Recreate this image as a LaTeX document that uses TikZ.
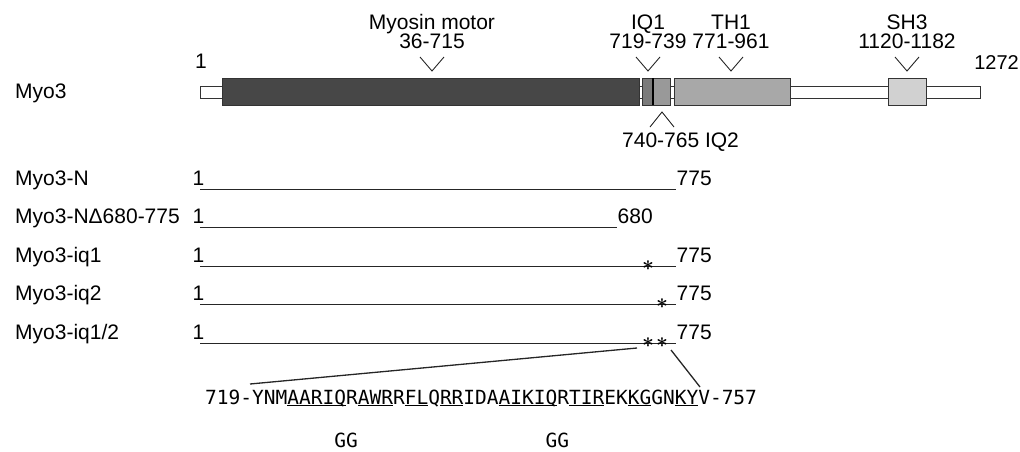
\documentclass[tikz,border=0pt]{standalone}
\usepackage{fontspec}
\setmainfont{Liberation Sans}
\newfontfamily\seqfont{DejaVu Sans Mono}
\usetikzlibrary{positioning}
\newcommand\seqline[1]{\underline{\smash{#1}}}

\begin{document}
\begin{tikzpicture}[x=1pt, y=-1pt,
  t/.style={font=\fontsize{21}{24}\selectfont, inner sep=0pt},
  sq/.style={font=\seqfont\fontsize{19.5}{22}\selectfont, inner sep=0pt},
  bx/.style={draw=black!80, line width=1pt},
  ln/.style={draw=black!85, line width=0.9pt},
  st/.style={font=\boldmath\fontsize{20}{20}\selectfont, inner sep=0pt}]
  \useasboundingbox (0,0) rectangle (1020,451);
  % full length Myo3
  \node[t, anchor=base west] (myo3) at (15,98) {Myo3};
  \node[t, anchor=base] (n1) at (201,68) {1};
  \node[t, font=\fontsize{20}{22}\selectfont, anchor=base east] (n1272) at (1019,69) {1272};
  \draw[bx, fill=white] (200,86) rectangle (980,98);
  \draw[bx, fill=black!72] (222,78) rectangle (639,105);
  \draw[bx, fill=black!52] (642,78) rectangle (653,105);
  \draw[bx, fill=black!40] (653,78) rectangle (670,105);
  \draw[line width=2pt] (653,78) -- (653,105);
  \draw[bx, fill=black!34] (674,78) rectangle (790,105);
  \draw[bx, fill=black!18] (888,78) rectangle (926,105);
  \foreach \x/\nm/\rg in {432/Myosin motor/36-715, 648/IQ1/719-739,
      731/TH1/771-961, 907/SH3/1120-1182} {
    \node[t, anchor=base] (d\x) at (\x,29) {\nm};
    \node[t, anchor=base] (r\x) at (\x,48) {\rg};
    \draw[ln] (\x-12,57) -- (\x,71) -- (\x+12,57);
  }
  \draw[ln] (650,127) -- (662,112) -- (674,127);
  \node[t, anchor=base west] (iq2) at (622,147) {740-765 IQ2};
  % constructs
  \foreach \i/\nm/\xe/\e in {0/Myo3-N/676/775, 1/Myo3-NΔ680-775/617/680,
      2/Myo3-iq1/676/775, 3/Myo3-iq2/676/775, 4/Myo3-iq1\slash2/676/775} {
    \node[t, anchor=base west] (c\i) at (15,185+38.5*\i) {\nm};
    \node[t, anchor=base west] (one\i) at (192.5,185+38.5*\i) {1};
    \coordinate (a\i) at (200,189+38.5*\i);
    \coordinate (b\i) at (\xe,189+38.5*\i);
    \draw[ln] (a\i) -- (b\i);
    \node[t, anchor=base west] (e\i) at (\xe+0.5,185+38.5*\i) {\e};
  }
  \node[st] (q1) at (648,266) {$\ast$};
  \node[st] (q2) at (662,304) {$\ast$};
  \node[st] (q3) at (648,343) {$\ast$};
  \node[st] (q4) at (662,343) {$\ast$};
  % sequence 719-757
  \node[sq, anchor=base west] (seq) at (205,404)
    {719-YNM\seqline{AARIQ}R\seqline{AWR}R\seqline{FL}Q\seqline{RR}IDA\seqline{AIKIQ}R\seqline{TIR}EK\seqline{KG}GN\seqline{KY}V-757};
  \node[sq, anchor=base west] (gg) at (205,447)
    {\phantom{719-YNMAARI}GG\phantom{RAWRRFLQRRIDAAIK}GG};
  \coordinate (k1) at (637,348);
  \coordinate (k2) at (671,350);
  \coordinate (y719) at (250,384);
  \coordinate (v757) at (700,387);
  \draw[ln, line width=1.3pt] (k1) -- (y719);
  \draw[ln, line width=1.3pt] (k2) -- (v757);
\end{tikzpicture}
\end{document}
